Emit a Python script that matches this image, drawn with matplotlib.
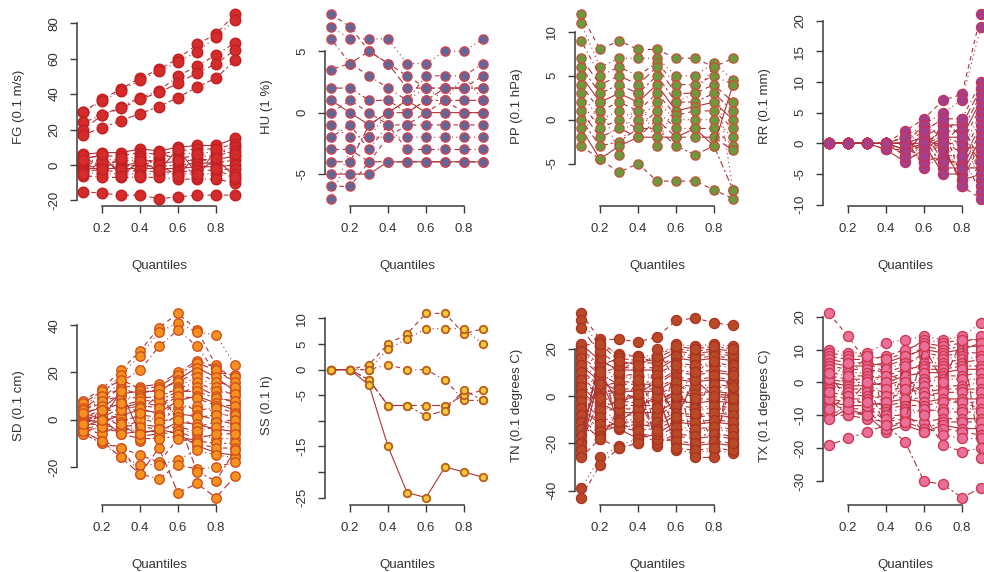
import matplotlib
matplotlib.use("Agg")
import matplotlib.pyplot as plt

plt.rcParams['font.family'] = ['Liberation Sans', 'DejaVu Sans']

quantiles = [0.1, 0.2, 0.3, 0.4, 0.5, 0.6, 0.7, 0.8, 0.9]

# one row per station, one value per quantile
fg = [
    [30, 37, 43, 49, 54, 60, 68, 74, 85],
    [30, 36, 42, 48, 53, 58, 64, 72, 82],
    [24, 28, 33, 38, 42, 50, 56, 62, 69],
    [20, 28, 32, 37, 41, 46, 52, 57, 65],
    [17, 21, 25, 29, 33, 38, 44, 49, 59],
    [6, 7, 7, 9, 8, 10, 11, 11, 15],
    [4, 5, 5, 7, 6, 8, 9, 9, 12],
    [2, 3, 3, 5, 4, 6, 7, 7, 10],
    [1, 1, 2, 3, 2, 4, 5, 5, 8],
    [0, 0, 0, 1, 1, 2, 3, 3, 5],
    [-1, -1, -1, 0, -1, 0, 1, 1, 3],
    [-2, -2, -2, -2, -2, -2, -1, -1, 0],
    [-3, -3, -4, -3, -4, -4, -3, -3, -2],
    [-4, -5, -5, -5, -5, -5, -5, -5, -5],
    [-6, -7, -7, -7, -7, -8, -8, -8, -10],
    [-5, 2, -3, 4, 0, -6, 6, -2, -8],
    [5, -2, 4, -6, 7, 3, -7, 9, 6],
    [3, 6, -6, 2, -3, 9, -5, 4, -7],
    [-15, -16, -17, -17, -19, -18, -17, -17, -17],
]
hu = [
    [8, 7, 5, 4, 3, 2, 2, 2, 3],
    [7, 6, 6, 6, 4, 4, 5, 5, 6],
    [6, 4, 3, 2, 1, 3, 3, 3, 4],
    [3.5, 4, 5, 4, 2, 2, 2, 2, 2],
    [2, 2, 1, 1, 0, 1, 1, 1, 1],
    [1, 0, -1, 0, 1, 0, 0, 0, 0],
    [0, 1, 0, -1, -1, -1, -1, -1, -1],
    [-1, -2, -2, -2, -2, -2, -2, -2, -2],
    [-2, -1, -3, -1, -3, -3, -3, -3, -3],
    [-3, -3, -4, -4, -4, -4, -4, -4, -4],
    [-4, -4, -1, 0, 0, 1, 2, 2, 2],
    [-5, -5, -5, -4, -4, -4, -4, -4, -4],
    [-6, -6, -4, -2, -1, 0, 1, 0, 0],
    [-7, -3, -2, 0, 1, 2, 1, 3, 1],
]
pp = [
    [12, 8, 9, 8, 8, 7, 7, 6, 7],
    [11, 6, 7, 7, 7, 5, 5, 6.5, 4.5],
    [9, 5, 6, 5, 6.5, 4, 4, 5, 4],
    [7, 4, 5, 4, 6, 3, 3, 4, 2],
    [6, 3, 4, 3, 5, 2, 2, 3, 1],
    [5, 2, 3, 2, 4, 1, 1.5, 2, 0],
    [4, 1, 2, 1, 3, 0.5, 1, 1, -1],
    [3, 0, 1, 0, 2, 0, 0, 0, -2],
    [2, -1, 0, -1, 1, -1, -1, -1, -3],
    [1, -2, -1, -2, 0, -2, -2, -2, -3.5],
    [0, -3, -2.5, -1, -1, -3, -4, -3, -8],
    [-1, -4.5, -3, -2, -2, -2, -1, -3, 4],
    [-3, -4.5, -6, -5, -7, -7, -7, -8, -9],
    [-2, 2, -4, 3, -3, 2, 3, 6, -8],
]
rr = [
    [0, 0, 0, 0, 2, 4, 7, 8, 21],
    [0, 0, 0, 0, 1, 3, 5, 7, 19],
    [0, 0, 0, 0, 0, 2, 4, 4, 10],
    [0, 0, 0, 0, -1, 1, 3, 3, 9],
    [0, 0, 0, 0, -2, 0, 2, 2, 8],
    [0, 0, 0, -1, -3, -1, 1, 1, 7],
    [0, 0, 0, -1, -1, -2, 0, 0, 6],
    [0, 0, 0, 0, 0, -3, -1, -1, 5],
    [0, 0, 0, 0, 1, -4, -2, -2, 4],
    [0, 0, 0, 0, -2, 2, -3, -3, 3],
    [0, 0, 0, 0, 0, 1, -4, -4, 2],
    [0, 0, 0, 0, -1, 0, -5, -5, 1],
    [0, 0, 0, 0, 0, -1, 3, -6, 0],
    [0, 0, 0, 0, 1, -2, 2, -7, -1],
    [0, 0, 0, 0, 0, 0, 1, 0, -2],
    [0, 0, 0, 0, 0, -1, 0, 3, -3],
    [0, 0, 0, 0, -1, -3, -2, -4, -4],
    [0, 0, 0, 0, 0, 1, -1, -6, -5],
    [0, 0, 0, 0, 0, 0, 2, 4, -6],
    [0, 0, 0, 0, 0, -2, -3, 2, -7],
    [0, 0, 0, 0, 0, 3, 1, -2, -8],
    [0, 0, 0, 0, 0, 0, 0, -7, -9],
    [0, 0, 0, 0, 1, 2, 4, 1, -3],
]
sd = [
    [8, 13, 21, 29, 39, 45, 38, 23, 14],
    [6, 11, 19, 27, 37, 41, 37, 36, 23],
    [5, 9, 16, 21, 31, 38, 31, 20, 19],
    [4, 7, 14, 14, 15, 20, 25, 22, 18],
    [7, 12, 17, 13, 14, 19, 24, 21, 16],
    [3, 5, 11, 12, 12, 17, 22, 18, 12],
    [5, 10, 13, 11, 13, 16, 20, 16, 14],
    [2, 3, 8, 10, 9, 14, 18, 14, 10],
    [4, 8, 10, 9, 10, 13, 16, 12, 11],
    [1, 1, 5, 7, 6, 11, 14, 10, 7],
    [2, 6, 6, 8, 8, 12, 12, 9, 8],
    [0, -1, 2, 4, 3, 8, 10, 7, 4],
    [1, 4, 4, 6, 5, 10, 9, 6, 6],
    [-1, -3, 0, 1, 0, 5, 6, 3, 1],
    [0, 2, 1, 5, 2, 7, 4, 5, 3],
    [-2, 2, -3, -2, -3, 2, 2, 0, -2],
    [-1, 0, -1, 2, 1, 3, 1, 2, 2],
    [-3, 0, -6, -5, -5, -1, -2, -4, -5],
    [-2, -2, -4, 0, -1, 1, -3, -1, 0],
    [-4, -2, 4, -9, -7, -4, -6, -8, -8],
    [-3, -4, -5, -3, -4, -3, -5, -3, -3],
    [-4, -6, -2, -7, -6, -5, -8, -6, -6],
    [-5, -3, -6, -8, -8, -7, -9, -10, -10],
    [3, 0, 12, -6, -4, -6, -11, -14, -15],
    [-5, -9, -12, -15, -18, -8, -10, -12, -12],
    [-6, -10, -16, -19, -19, -17, -13, -15, -16],
    [-6, -10, -12, -23, -25, -19, -21, -20, -18],
    [-5, -9, -16, -23, -12, -31, -27, -33, -24],
    [-2, 4, 7, 3, 11, 0, -22, -26, -13],
]
ss = [
    [0, 0, 1, 5, 7, 11, 11, 7, 8],
    [0, 0, 0, 4, 6, 8, 8, 8, 5],
    [0, 0, 0, 1, 0, 0, -2, -6, -6],
    [0, 0, -2, -7, -7, -7, -7, -5, -4],
    [0, 0, -2, -7, -7, -9, -8, -4, -6],
    [0, 0, -3, -15, -24, -25, -19, -20, -21],
]
tn = [
    [35, 24, 24, 23, 25, 32, 33, 31, 30],
    [32, 21, 18, 17, 17, 22, 21, 22, 21],
    [21, 23, 17, 17, 15, 18, 17, 18, 17],
    [29, 18, 14, 14, 14, 19, 18, 19, 18],
    [20, 13, 16, 15, 16, 20, 19, 20, 19],
    [22, 15, 11, 11, 11, 16, 15, 16, 15],
    [17, 10, 12, 12, 12, 17, 16, 17, 16],
    [19, 12, 8, 8, 8, 13, 12, 13, 12],
    [14, 7, 9, 9, 9, 14, 13, 14, 13],
    [16, 9, 5, 5, 5, 10, 9, 10, 9],
    [11, 4, 6, 6, 6, 11, 10, 11, 10],
    [13, 6, 2, 2, 2, 7, 6, 7, 6],
    [8, 1, 3, 3, 3, 8, 7, 8, 7],
    [10, 3, -1, -1, -1, 4, 3, 4, 3],
    [5, -2, 0, 0, 0, 5, 4, 5, 4],
    [7, 0, -4, -4, -4, 1, 0, 1, 0],
    [2, -5, -2, -3, -2, 2, 1, 2, 1],
    [4, -3, -7, -7, -7, -2, -3, -2, -3],
    [-1, -7, -5, -6, -5, -1, -2, -1, -2],
    [1, -6, -10, -10, -10, -5, -6, -5, -6],
    [-4, -11, -8, -8, -8, -4, -5, -4, -5],
    [-2, -9, -13, -12, -13, -8, -9, -8, -9],
    [-7, -14, -11, -11, -11, -7, -8, -7, -8],
    [-5, -12, -14, -18, -16, -11, -12, -11, -12],
    [-10, -16, -12, -14, -14, -10, -11, -10, -11],
    [-8, -15, 12, 4, -19, -14, -15, -14, -15],
    [-13, -17, -9, -16, -17, -13, -14, -13, -14],
    [-11, -18, -6, 7, -21, -17, -18, -17, -18],
    [-16, 14, -13, -15, -20, -16, -17, -16, -17],
    [-14, 8, -11, -5, 0, -20, -21, -20, -21],
    [-19, 16, 10, 16, -18, -19, -20, -19, -20],
    [-17, 5, 0, -9, 3, -23, -24, -23, -24],
    [-22, 19, 13, 15, 15, -22, -23, -22, -23],
    [-20, -1, 3, -2, -16, 13, -26, -26, 18],
    [-25, 22, 15, 13, 17, 21, 20, 21, 20],
    [-23, 10, -3, 1, 6, -9, 7, 0, -1],
    [-26, -18, -22, -20, 20, 6, -1, -22, 9],
    [-39, -26, -21, -18, -15, 0, 10, 15, -20],
    [-43, -29, -22, -20, -5, 3, -7, 9, 4],
]
tx = [
    [21, 14, 6, 3, 0, -3, -5, -6, -8],
    [10, 9, 9, 12, 13, 14, 13, 14, 18],
    [9, 8, 8, 7, 9, 13, 12, 13, 13],
    [8, 7, 7, 8, 10, 12, 11, 12, 14],
    [7, 6, 6, 5, 7, 11, 10, 11, 11],
    [6, 5, 5, 6, 8, 10, 9, 10, 12],
    [5, 4, 4, 3, 5, 9, 8, 9, 9],
    [4, 3, 3, 4, 6, 8, 7, 8, 10],
    [3, 2, 2, 1, 3, 6, 6, 7, 8],
    [2, 1, 1, 2, 4, 5, 5, 6, 7],
    [1, 0, 0, -1, 1, 4, 4, 5, 5],
    [0, -1, -1, 0, 2, 3, 3, 4, 4],
    [-1, -2, -2, -3, -1, 1, 2, 2, 3],
    [-2, -3, -3, -2, 0, 0, 1, 1, 1],
    [-3, -4, -4, -5, -3, -1, -1, -1, 0],
    [-4, -5, -5, -4, -2, -3, -2, -2, -2],
    [-5, -6, -6, -7, -6, -4, -3, -3, -3],
    [-6, -7, -7, -6, -5, -6, -5, -5, -5],
    [-7, -8, -8, -8, -7, -7, -6, -6, -6],
    [-8, -9, -9, -9, -8, -9, -8, -8, -8],
    [-9, -9, -10, -10, -10, -8, -9, -9, -9],
    [-10, -10, -11, -12, -11, -12, -11, -11, -11],
    [-5, -10, -9, -13, -12, -14, -12, -12, -12],
    [-11, -8, -10, -15, -13, -15, -13, -14, -14],
    [-8, -4, -7, -12, -9, -15, -14, -15, -16],
    [1, 6, -6, 7, -9, 9, -16, -17, -17],
    [-3, 2, 8, -11, 5, -10, -19, -21, -20],
    [3, -6, 0, -14, -12, 11, 0, 13, -23],
    [-19, -17, -15, -13, -18, -30, -31, -35, -32],
]

ylabels = ["FG (0.1 m/s)", "HU (1 %)", "PP (0.1 hPa)", "RR (0.1 mm)",
           "SD (0.1 cm)", "SS (0.1 h)", "TN (0.1 degrees C)", "TX (0.1 degrees C)"]
yticks = [
    [-20, 0, 20, 40, 60, 80],
    [-5, 0, 5],
    [-5, 0, 5, 10],
    [-10, -5, 0, 5, 10, 15, 20],
    [-20, 0, 20, 40],
    [-25, -20, -15, -10, -5, 0, 5, 10],
    [-40, -20, 0, 20],
    [-30, -20, -10, 0, 10, 20],
]
xticks = [0.2, 0.4, 0.6, 0.8]

# fill, edge, marker size
styles = [
    ("#d42b2b", "#c31f22", 7.6),
    ("#5f6898", "#d2434f", 6.6),
    ("#6a9a3e", "#c2563a", 6.6),
    ("#a2408c", "#c4335e", 7.2),
    ("#f5921f", "#d2501a", 6.8),
    ("#f8c63a", "#b8601a", 5.4),
    ("#b84a28", "#ad3321", 7.2),
    ("#ea7099", "#cf3652", 7.2),
]
line_col = "#ab3339"
dashes = [(0, (4, 3.5)), (0, (1, 3)), (0, (1, 3, 4, 3)), (0, (7, 3.5)),
          (0, (2, 2.5, 6, 2.5)), "-"]
axis_col = "#3a3a3a"
text_col = "#333333"

data = [fg, hu, pp, rr, sd, ss, tn, tx]

W, H = 984, 572
fig = plt.figure(figsize=(W / 100, H / 100), dpi=100)

lefts = [77, 325, 575, 823]
tops = [7, 306]
pw, ph = 164, 199

for i, series in enumerate(data):
    r, c = divmod(i, 4)
    ax = fig.add_axes([lefts[c] / W, 1 - (tops[r] + ph) / H, pw / W, ph / H])
    fill, edge, ms = styles[i]
    for j, vals in enumerate(series):
        ax.plot(quantiles, vals, color=line_col, lw=0.8, ls=dashes[j % len(dashes)],
                marker="o", ms=ms, mfc=fill, mec=edge, mew=1.0 if i != 5 else 1.3)

    lo = min(min(v) for v in series)
    hi = max(max(v) for v in series)
    pad = 0.04 * (hi - lo)
    ax.set_ylim(lo - pad, hi + pad)
    ax.set_xlim(0.1 - 0.032, 0.9 + 0.032)

    for s in ["top", "right"]:
        ax.spines[s].set_visible(False)
    for s in ["left", "bottom"]:
        ax.spines[s].set_color(axis_col)
        ax.spines[s].set_linewidth(1.1)
    ax.spines["bottom"].set_bounds(xticks[0], xticks[-1])
    yt = yticks[i]
    ax.spines["left"].set_bounds(yt[0], yt[-1])

    ax.set_xticks(xticks)
    ax.set_xticklabels(["0.2", "0.4", "0.6", "0.8"])
    ax.set_yticks(yt)
    if i == 5:
        ax.set_yticklabels(["-25", "", "-15", "", "-5", "0", "5", "10"])
    else:
        ax.set_yticklabels([str(t) for t in yt])
    ax.tick_params(direction="out", length=5, width=1.0, color=axis_col,
                   labelsize=9.5, labelcolor=text_col, pad=7)
    for lab in ax.get_yticklabels():
        lab.set_rotation(90)
        lab.set_va("center")

    ax.text(-58 / pw, 0.5, ylabels[i], rotation=90, ha="center", va="center",
            fontsize=9.5, color=text_col, transform=ax.transAxes)
    ax.text(0.5, -60 / ph, "Quantiles", ha="center", va="center",
            fontsize=9.5, color=text_col, transform=ax.transAxes)
    ax.set_facecolor("none")

fig.savefig("out.png", dpi=100, facecolor="white")
